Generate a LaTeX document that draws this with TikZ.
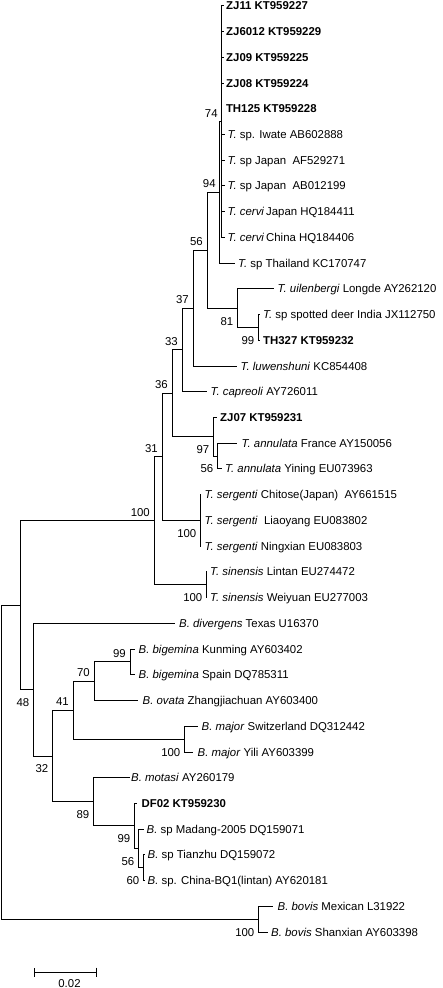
\documentclass[tikz,border=0pt]{standalone}
\usepackage{fontspec}
\setmainfont{Liberation Sans}
\usetikzlibrary{arrows.meta}
\begin{document}
\begin{tikzpicture}[x=1bp,y=-1bp,
  br/.style={line width=0.8bp,black},
  txt/.style={inner sep=0pt,font=\fontsize{11.4bp}{13bp}\selectfont},
  lab/.style={txt,anchor=base west},
  bsa/.style={txt,anchor=base east,xshift=-4bp,yshift=4.5bp},
  bsb/.style={txt,anchor=base east,xshift=-3.5bp,yshift=-17bp}]
\useasboundingbox (0,0) rectangle (443,988);
% leaf tips
\coordinate (l1) at (223.5,5.7);
\coordinate (l2) at (223.5,31.4);
\coordinate (l3) at (223.5,57.2);
\coordinate (l4) at (223.5,82.9);
\coordinate (l5) at (221.8,108.6);
\coordinate (l6) at (224.5,134.4);
\coordinate (l7) at (224.5,160.1);
\coordinate (l8) at (224.5,185.8);
\coordinate (l9) at (224.5,211.5);
\coordinate (l10) at (224.5,237.3);
\coordinate (l11) at (235,263.0);
\coordinate (l12) at (274,288.7);
\coordinate (l13) at (260,314.5);
\coordinate (l14) at (260,340.2);
\coordinate (l15) at (237,365.9);
\coordinate (l16) at (207,391.7);
\coordinate (l17) at (217,417.4);
\coordinate (l18) at (237,443.1);
\coordinate (l19) at (222,468.8);
\coordinate (l20) at (201,494.6);
\coordinate (l21) at (201,520.3);
\coordinate (l22) at (201,546.0);
\coordinate (l23) at (207,571.8);
\coordinate (l24) at (207,597.5);
\coordinate (l25) at (175,623.2);
\coordinate (l26) at (135,649.0);
\coordinate (l27) at (135,674.7);
\coordinate (l28) at (138,700.4);
\coordinate (l29) at (198,726.1);
\coordinate (l30) at (193,751.9);
\coordinate (l31) at (130,777.6);
\coordinate (l32) at (137,803.3);
\coordinate (l33) at (144,829.1);
\coordinate (l34) at (145,854.8);
\coordinate (l35) at (144.5,880.5);
\coordinate (l36) at (273,906.3);
\coordinate (l37) at (268,932.0);
% internal nodes
\coordinate (n74) at (221.8,121.5);
\coordinate (n94) at (219.8,192.25);
\coordinate (n99a) at (258,327.35);
\coordinate (n81) at (237,308.0);
\coordinate (n56) at (207,250.1);
\coordinate (n37) at (193,308.0);
\coordinate (n33) at (182,349.85);
\coordinate (nAP) at (217,455.95);
\coordinate (n97) at (213,436.7);
\coordinate (n36) at (172,393.3);
\coordinate (nSerg) at (200,520.3);
\coordinate (n31) at (162,456.8);
\coordinate (nSin) at (206,584.65);
\coordinate (nT) at (154,520.7);
\coordinate (nBig) at (130,661.85);
\coordinate (n70) at (94,681.1);
\coordinate (nMaj) at (184,739.0);
\coordinate (n41) at (73,710.05);
\coordinate (nF) at (143,867.65);
\coordinate (nE) at (138,848.4);
\coordinate (nD) at (134,825.85);
\coordinate (n89) at (93,801.7);
\coordinate (n32) at (52,755.9);
\coordinate (nB) at (33,689.55);
\coordinate (nA) at (20,605.1);
\coordinate (nBov) at (258,919.15);
\coordinate (root) at (1.5,762.1);
% branches
\draw[br] (n74) |- (l1) (n74) |- (l2) (n74) |- (l3) (n74) |- (l4) (n74) |- (l5)
  (n74) |- (l6) (n74) |- (l7) (n74) |- (l8) (n74) |- (l9) (n74) |- (l10);
\draw[br] (n94) |- (n74) (n94) |- (l11);
\draw[br] (n99a) |- (l13) (n99a) |- (l14);
\draw[br] (n81) |- (l12) (n81) |- (n99a);
\draw[br] (n56) |- (n94) (n56) |- (n81);
\draw[br] (n37) |- (n56) (n37) |- (l15);
\draw[br] (n33) |- (n37) (n33) |- (l16);
\draw[br] (nAP) |- (l18) (nAP) |- (l19);
\draw[br] (n97) |- (l17) (n97) |- (nAP);
\draw[br] (n36) |- (n33) (n36) |- (n97);
\draw[br] (nSerg) |- (l20) (nSerg) |- (l21) (nSerg) |- (l22);
\draw[br] (n31) |- (n36) (n31) |- (nSerg);
\draw[br] (nSin) |- (l23) (nSin) |- (l24);
\draw[br] (nT) |- (n31) (nT) |- (nSin);
\draw[br] (nBig) |- (l26) (nBig) |- (l27);
\draw[br] (n70) |- (nBig) (n70) |- (l28);
\draw[br] (nMaj) |- (l29) (nMaj) |- (l30);
\draw[br] (n41) |- (n70) (n41) |- (nMaj);
\draw[br] (nF) |- (l34) (nF) |- (l35);
\draw[br] (nE) |- (l33) (nE) |- (nF);
\draw[br] (nD) |- (l32) (nD) |- (nE);
\draw[br] (n89) |- (l31) (n89) |- (nD);
\draw[br] (n32) |- (n41) (n32) |- (n89);
\draw[br] (nB) |- (l25) (nB) |- (n32);
\draw[br] (nA) |- (nT) (nA) |- (nB);
\draw[br] (nBov) |- (l36) (nBov) |- (l37);
\draw[br] (root) |- (nA) (root) |- (nBov);
% leaf labels
\node[lab] (t1) at (226,9.8) {\textbf{ZJ11 KT959227}};
\node[lab] (t2) at (226,35.5) {\textbf{ZJ6012 KT959229}};
\node[lab] (t3) at (226,61.3) {\textbf{ZJ09 KT959225}};
\node[lab] (t4) at (226,87.0) {\textbf{ZJ08 KT959224}};
\node[lab,fill=white,inner xsep=2.4bp,inner ysep=4bp,text height=8.2bp,text depth=2bp] (t5) at (223.4,112.7) {\textbf{TH125 KT959228}};
\node[lab] (t6) at (227.5,138.5) {\textit{T.} sp. Iwate AB602888};
\node[lab] (t7) at (227.5,164.2) {\textit{T.} sp Japan\ \ AF529271};
\node[lab] (t8) at (227.5,189.9) {\textit{T.} sp Japan\ \ AB012199};
\node[lab] (t9) at (227.5,215.6) {\textit{T. cervi}\,Japan HQ184411};
\node[lab] (t10) at (227.5,241.4) {\textit{T. cervi}\,China HQ184406};
\node[lab] (t11) at (238,267.1) {\textit{T.} sp Thailand KC170747};
\node[lab] (t12) at (277.5,292.8) {\textit{T. uilenbergi} Longde AY262120};
\node[lab] (t13) at (263,318.6) {\textit{T.} sp spotted deer India JX112750};
\node[lab] (t14) at (263,344.3) {\textbf{TH327 KT959232}};
\node[lab] (t15) at (240.5,370.0) {\textit{T. luwenshuni} KC854408};
\node[lab] (t16) at (210.5,395.8) {\textit{T. capreoli} AY726011};
\node[lab] (t17) at (220,421.5) {\textbf{ZJ07 KT959231}};
\node[lab] (t18) at (241.5,447.2) {\textit{T. annulata} France AY150056};
\node[lab] (t19) at (225,472.9) {\textit{T. annulata} Yining EU073963};
\node[lab] (t20) at (204.5,498.7) {\textit{T. sergenti} Chitose(Japan)\ \ AY661515};
\node[lab] (t21) at (204.5,524.4) {\textit{T. sergenti}\ \ Liaoyang EU083802};
\node[lab] (t22) at (204.5,550.1) {\textit{T. sergenti} Ningxian EU083803};
\node[lab] (t23) at (210,575.9) {\textit{T. sinensis} Lintan EU274472};
\node[lab] (t24) at (210,601.6) {\textit{T. sinensis} Weiyuan EU277003};
\node[lab] (t25) at (179,627.3) {\textit{B. divergens} Texas U16370};
\node[lab] (t26) at (138.5,653.1) {\textit{B. bigemina} Kunming AY603402};
\node[lab] (t27) at (138.5,678.8) {\textit{B. bigemina} Spain DQ785311};
\node[lab] (t28) at (142.5,704.5) {\textit{B. ovata} Zhangjiachuan AY603400};
\node[lab] (t29) at (201.5,730.2) {\textit{B. major} Switzerland DQ312442};
\node[lab] (t30) at (197.5,756.0) {\textit{B. major} Yili AY603399};
\node[lab] (t31) at (131,781.7) {\textit{B. motasi} AY260179};
\node[lab] (t32) at (141.5,807.4) {\textbf{DF02 KT959230}};
\node[lab] (t33) at (146.5,833.2) {\textit{B.} sp Madang-2005 DQ159071};
\node[lab] (t34) at (147.5,858.9) {\textit{B.} sp Tianzhu DQ159072};
\node[lab] (t35) at (147.5,884.6) {\textit{B.} sp. China-BQ1(lintan) AY620181};
\node[lab] (t36) at (277.5,910.4) {\textit{B. bovis} Mexican L31922};
\node[lab] (t37) at (271,936.1) {\textit{B. bovis} Shanxian AY603398};
% bootstrap values
\node[bsa] (b74) at (n74) {74};
\node[bsa] (b94) at (n94) {94};
\node[bsa] (b56) at (n56) {56};
\node[bsa] (b37) at (n37) {37};
\node[bsa] (b33) at (n33) {33};
\node[bsa] (b36) at (n36) {36};
\node[bsa] (b31) at (n31) {31};
\node[bsa] (bT) at (nT) {100};
\node[bsa] (bBig) at (nBig) {99};
\node[bsa] (b70) at (n70) {70};
\node[bsa] (b41) at (n41) {41};
\node[bsb] (b81) at (n81) {81};
\node[bsb] (b99a) at (n99a) {99};
\node[bsb] (b97) at (n97) {97};
\node[bsb] (bAP) at (nAP) {56};
\node[bsb] (bSerg) at (nSerg) {100};
\node[bsb] (bSin) at (nSin) {100};
\node[bsb] (bB) at (nB) {48};
\node[bsb] (b32) at (n32) {32};
\node[bsb] (bMaj) at (nMaj) {100};
\node[bsb] (b89) at (n89) {89};
\node[bsb] (bD) at (nD) {99};
\node[bsb] (bE) at (nE) {56};
\node[bsb] (bF) at (nF) {60};
\node[bsb] (bBov) at (nBov) {100};
% scale bar
\coordinate (sb1) at (34.3,972);
\coordinate (sb2) at (96.7,972);
\draw[br,{Bar[width=9bp]}-{Bar[width=9bp]}] (sb1) -- (sb2);
\node[txt,anchor=base] (sbl) at (69.5,987.3) {0.02};
\end{tikzpicture}
\end{document}
